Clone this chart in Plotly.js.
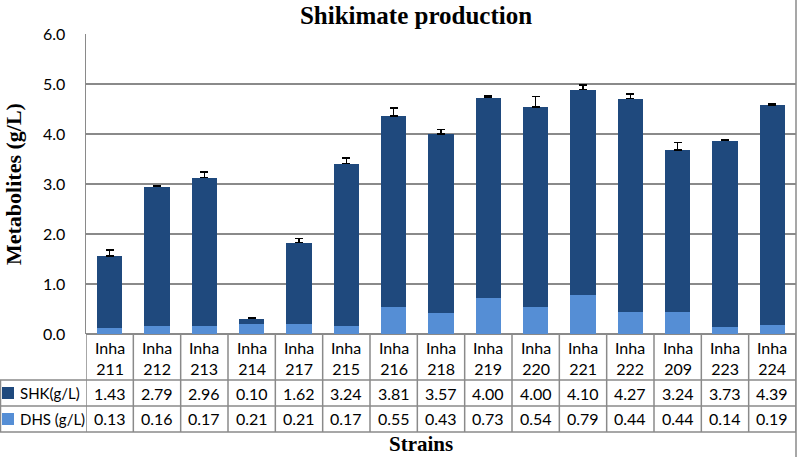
<!DOCTYPE html>
<html>
<head>
<meta charset="utf-8">
<script src="https://cdn.plot.ly/plotly-3.0.1.min.js"></script>
<style>
  body { margin: 0; background: #fff; }
  #plot { width: 797px; height: 457px; }
</style>
</head>
<body>
<div id="plot"></div>
<script>
let strains = ['211', '212', '213', '214', '217', '215', '216', '218', '219', '220', '221', '222', '209', '223', '224'];
let shk = [1.43, 2.79, 2.96, 0.10, 1.62, 3.24, 3.81, 3.57, 4.00, 4.00, 4.10, 4.27, 3.24, 3.73, 4.39];
let dhs = [0.13, 0.16, 0.17, 0.21, 0.21, 0.17, 0.55, 0.43, 0.73, 0.54, 0.79, 0.44, 0.44, 0.14, 0.19];
let errTop = [0.12, 0.01, 0.11, 0.02, 0.08, 0.11, 0.16, 0.09, 0.03, 0.21, 0.09, 0.09, 0.15, 0.01, 0.03];

let dark = '#1F497D';
let light = '#558ED5';
let grid = '#8a8a8a';
let font = 'Lato, "Open Sans", sans-serif';
let serif = '"Liberation Serif", "Times New Roman", serif';

let cats = strains.map(s => 'Inha ' + s);

// table rows in paper units (0 = axis at y 334px, 300px per unit)
function py(px) { return (334 - px) / 300; }

let trace1 = {
    x: cats, y: dhs, type: 'bar', name: 'DHS (g/L)',
    marker: {color: light}
};
let trace2 = {
    x: cats, y: shk, type: 'bar', name: 'SHK(g/L)',
    marker: {color: dark},
    error_y: {type: 'data', symmetric: false, array: errTop, arrayminus: strains.map(() => 0),
              color: '#000', thickness: 1.5, width: 4}
};

let shapes = [];
let annotations = [];
let line = {color: grid, width: 1.5};

// horizontal table lines
[380, 406, 432].forEach(p => {
    shapes.push({type: 'line', xref: 'paper', yref: 'paper', x0: -86 / 710, x1: 1, y0: py(p), y1: py(p), line: line});
});
// left border of legend column
shapes.push({type: 'line', xref: 'paper', yref: 'paper', x0: -85.5 / 710, x1: -85.5 / 710, y0: py(380), y1: py(432), line: line});
// vertical table lines at category boundaries
for (let i = 0; i <= strains.length; i++) {
    shapes.push({type: 'line', xref: 'x', yref: 'paper', x0: i - 0.5, x1: i - 0.5, y0: 0, y1: py(432), line: line});
}
// outer right frame
shapes.push({type: 'line', xref: 'paper', yref: 'paper', x0: 1, x1: 1, y0: 1.2, y1: py(470), line: line});

// legend keys in table
shapes.push({type: 'rect', xref: 'paper', yref: 'paper', x0: -84 / 710, x1: -72 / 710, y0: py(399), y1: py(387), fillcolor: dark, line: {width: 0}});
shapes.push({type: 'rect', xref: 'paper', yref: 'paper', x0: -84 / 710, x1: -72 / 710, y0: py(425), y1: py(413), fillcolor: light, line: {width: 0}});

annotations.push({xref: 'paper', yref: 'paper', x: -68 / 710, y: py(393), xanchor: 'left', yanchor: 'middle', showarrow: false, text: 'SHK(g/L)', font: {family: font, size: 15, color: '#000'}});
annotations.push({xref: 'paper', yref: 'paper', x: -68 / 710, y: py(419), xanchor: 'left', yanchor: 'middle', showarrow: false, text: 'DHS (g/L)', font: {family: font, size: 15, color: '#000'}});

for (let i = 0; i < strains.length; i++) {
    annotations.push({xref: 'x', yref: 'paper', x: i, y: py(358), yanchor: 'middle', showarrow: false, text: 'Inha<br>' + strains[i], font: {family: font, size: 16, color: '#000'}});
    annotations.push({xref: 'x', yref: 'paper', x: i, y: py(393), yanchor: 'middle', showarrow: false, text: shk[i].toFixed(2), font: {family: font, size: 16, color: '#000'}});
    annotations.push({xref: 'x', yref: 'paper', x: i, y: py(419), yanchor: 'middle', showarrow: false, text: dhs[i].toFixed(2), font: {family: font, size: 16, color: '#000'}});
}

annotations.push({xref: 'paper', yref: 'paper', x: (421 - 86) / 710, y: py(444), yanchor: 'middle', showarrow: false, text: '<b>Strains</b>', font: {family: serif, size: 21, color: '#000'}});
annotations.push({xref: 'paper', yref: 'paper', x: (13 - 86) / 710, y: 0.5, textangle: -90, xanchor: 'center', yanchor: 'middle', showarrow: false, text: '<b>Metabolites (g/L)</b>', font: {family: serif, size: 22, color: '#000'}});

let layout = {
    width: 797, height: 457,
    margin: {l: 86, r: 1, t: 34, b: 123},
    paper_bgcolor: '#fff', plot_bgcolor: '#fff',
    barmode: 'stack', bargap: 0.47,
    showlegend: false,
    title: {text: '<b>Shikimate production</b>', xref: 'paper', x: (416 - 86) / 710, xanchor: 'center',
            yref: 'container', y: 1 - 15 / 457, yanchor: 'middle',
            font: {family: serif, size: 25, color: '#000'}},
    xaxis: {type: 'category', showticklabels: false, showgrid: false, zeroline: false,
            showline: false, ticks: '', range: [-0.5, strains.length - 0.5], fixedrange: true},
    yaxis: {range: [0, 6], dtick: 1, tickformat: '.1f', showgrid: true, gridcolor: grid, gridwidth: 1.5,
            zeroline: true, zerolinecolor: grid, zerolinewidth: 1.5,
            showline: true, linecolor: grid, linewidth: 1.5, ticks: '', ticklabelstandoff: 16,
            tickfont: {family: font, size: 16, color: '#000'}},
    shapes: shapes,
    annotations: annotations
};

Plotly.newPlot('plot', [trace1, trace2], layout, {displayModeBar: false, staticPlot: true});
</script>
</body>
</html>
